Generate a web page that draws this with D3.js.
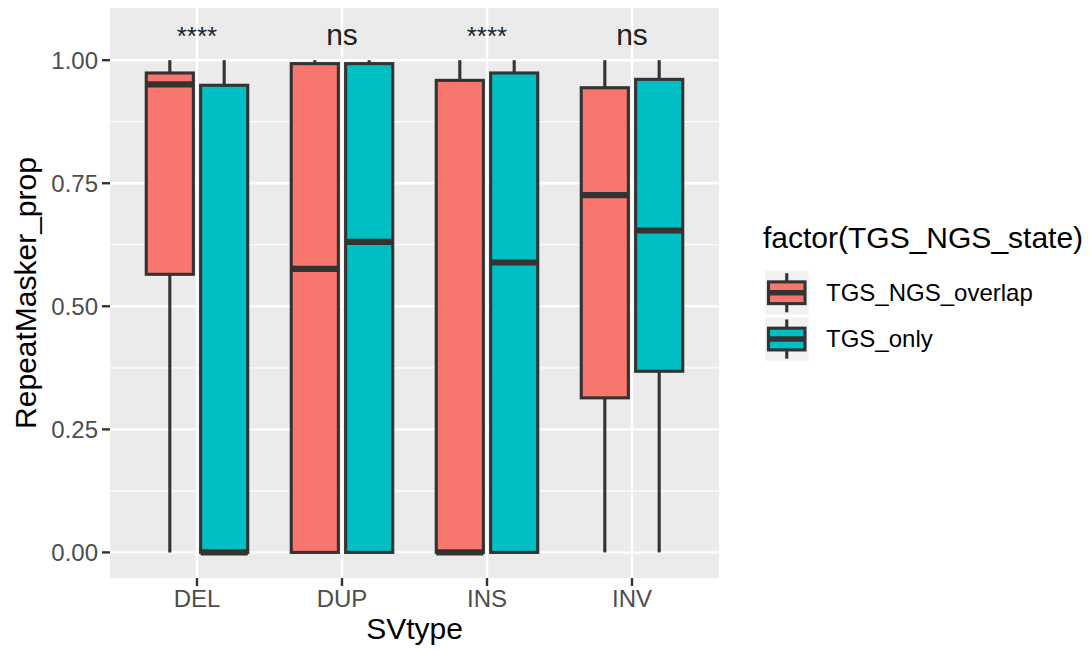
<!DOCTYPE html>
<html>
<head>
<meta charset="utf-8">
<script src="https://cdnjs.cloudflare.com/ajax/libs/d3/7.8.5/d3.min.js"></script>
<style>
  body { margin: 0; background: #fff; }
  text { font-family: "Liberation Sans", Arial, sans-serif; }
</style>
</head>
<body>
<svg id="chart" width="1089" height="650"></svg>
<script>
// Categories and groups
var svTypes = ["DEL", "DUP", "INS", "INV"];
var states = ["TGS_NGS_overlap", "TGS_only"];
var stateColors = ["#F8766D", "#00BFC4"];

// Box statistics per state, one value per SV type
var overlapLower  = [0, 0, 0, 0];
var overlapQ1     = [0.565, 0, 0, 0.314];
var overlapMedian = [0.951, 0.576, 0, 0.726];
var overlapQ3     = [0.974, 0.993, 0.959, 0.944];
var overlapUpper  = [1, 1, 1, 1];

var onlyLower  = [0, 0, 0, 0];
var onlyQ1     = [0, 0, 0, 0.368];
var onlyMedian = [0, 0.631, 0.589, 0.654];
var onlyQ3     = [0.949, 0.993, 0.974, 0.961];
var onlyUpper  = [1, 1, 1, 1];

// Significance labels over each SV type
var signifLabels = ["****", "ns", "****", "ns"];
var signifY = 1.03;

var yTicks = [0, 0.25, 0.5, 0.75, 1];
var yMinor = [0.125, 0.375, 0.625, 0.875];

// Build the box rows from the arrays
var boxes = [];
svTypes.forEach(function (t, i) {
    boxes.push({ type: t, state: 0, lower: overlapLower[i], q1: overlapQ1[i], median: overlapMedian[i], q3: overlapQ3[i], upper: overlapUpper[i] });
    boxes.push({ type: t, state: 1, lower: onlyLower[i], q1: onlyQ1[i], median: onlyMedian[i], q3: onlyQ3[i], upper: onlyUpper[i] });
});

var svg = d3.select("#chart");
var panel = { left: 110, right: 719, top: 8, bottom: 578 };

var x = d3.scalePoint().domain(svTypes).range([panel.left, panel.right]).padding(0.6);
var y = d3.scaleLinear().domain([-0.052, 1.106]).range([panel.bottom, panel.top]);

var step = x.step();
var dodge = 0.1875 * step;
var boxW = 0.325 * step;
var lineCol = "#333333";
var lw = 3.1;

// Panel background
svg.append("rect")
    .attr("x", panel.left).attr("y", panel.top)
    .attr("width", panel.right - panel.left).attr("height", panel.bottom - panel.top)
    .attr("fill", "#EBEBEB");

// Minor grid
svg.selectAll(".minor").data(yMinor).enter().append("line")
    .attr("x1", panel.left).attr("x2", panel.right)
    .attr("y1", function (d) { return y(d); }).attr("y2", function (d) { return y(d); })
    .attr("stroke", "#fff").attr("stroke-width", 1.2);

// Major grid
svg.selectAll(".majorY").data(yTicks).enter().append("line")
    .attr("x1", panel.left).attr("x2", panel.right)
    .attr("y1", function (d) { return y(d); }).attr("y2", function (d) { return y(d); })
    .attr("stroke", "#fff").attr("stroke-width", 2.4);

svg.selectAll(".majorX").data(svTypes).enter().append("line")
    .attr("x1", function (d) { return x(d); }).attr("x2", function (d) { return x(d); })
    .attr("y1", panel.top).attr("y2", panel.bottom)
    .attr("stroke", "#fff").attr("stroke-width", 2.4);

// Boxes
var g = svg.selectAll(".box").data(boxes).enter().append("g");
var cxOf = function (d) { return x(d.type) + (d.state === 0 ? -dodge : dodge); };

g.append("line")
    .attr("x1", cxOf).attr("x2", cxOf)
    .attr("y1", function (d) { return y(d.q3); }).attr("y2", function (d) { return y(d.upper); })
    .attr("stroke", lineCol).attr("stroke-width", lw);
g.append("line")
    .attr("x1", cxOf).attr("x2", cxOf)
    .attr("y1", function (d) { return y(d.q1); }).attr("y2", function (d) { return y(d.lower); })
    .attr("stroke", lineCol).attr("stroke-width", lw);
g.append("rect")
    .attr("x", function (d) { return cxOf(d) - boxW / 2; })
    .attr("y", function (d) { return y(d.q3); })
    .attr("width", boxW)
    .attr("height", function (d) { return y(d.q1) - y(d.q3); })
    .attr("fill", function (d) { return stateColors[d.state]; })
    .attr("stroke", lineCol).attr("stroke-width", lw);
g.append("line")
    .attr("x1", function (d) { return cxOf(d) - boxW / 2; })
    .attr("x2", function (d) { return cxOf(d) + boxW / 2; })
    .attr("y1", function (d) { return y(d.median); }).attr("y2", function (d) { return y(d.median); })
    .attr("stroke", lineCol).attr("stroke-width", lw * 2);

// Significance labels
svg.selectAll(".signif").data(svTypes).enter().append("text")
    .attr("x", function (d) { return x(d); })
    .attr("y", y(signifY))
    .attr("text-anchor", "middle")
    .attr("font-size", function (d, i) { return signifLabels[i] === "ns" ? 30 : 26; })
    .attr("fill", "#222")
    .text(function (d, i) { return signifLabels[i]; });

// Y axis
svg.selectAll(".ytick").data(yTicks).enter().append("line")
    .attr("x1", panel.left - 8).attr("x2", panel.left)
    .attr("y1", function (d) { return y(d); }).attr("y2", function (d) { return y(d); })
    .attr("stroke", lineCol).attr("stroke-width", 2.4);
svg.selectAll(".ylab").data(yTicks).enter().append("text")
    .attr("x", panel.left - 12)
    .attr("y", function (d) { return y(d); })
    .attr("dy", "0.35em")
    .attr("text-anchor", "end")
    .attr("font-size", 24)
    .attr("fill", "#4D4D4D")
    .text(d3.format(".2f"));

// X axis
svg.selectAll(".xtick").data(svTypes).enter().append("line")
    .attr("x1", function (d) { return x(d); }).attr("x2", function (d) { return x(d); })
    .attr("y1", panel.bottom).attr("y2", panel.bottom + 8)
    .attr("stroke", lineCol).attr("stroke-width", 2.4);
svg.selectAll(".xlab").data(svTypes).enter().append("text")
    .attr("x", function (d) { return x(d); })
    .attr("y", 607)
    .attr("text-anchor", "middle")
    .attr("font-size", 24)
    .attr("fill", "#4D4D4D")
    .text(function (d) { return d; });

// Axis titles
svg.append("text")
    .attr("x", (panel.left + panel.right) / 2)
    .attr("y", 639)
    .attr("text-anchor", "middle")
    .attr("font-size", 30)
    .attr("fill", "#000")
    .text("SVtype");
svg.append("text")
    .attr("transform", "translate(36," + ((panel.top + panel.bottom) / 2) + ") rotate(-90)")
    .attr("text-anchor", "middle")
    .attr("font-size", 30)
    .attr("fill", "#000")
    .text("RepeatMasker_prop");

// Legend
var legendX = 765, keySize = 43.5, keyY = [271, 317.3];
svg.append("text")
    .attr("x", 763).attr("y", 248)
    .attr("font-size", 30)
    .attr("fill", "#000")
    .text("factor(TGS_NGS_state)");

var lg = svg.selectAll(".key").data(states).enter().append("g")
    .attr("transform", function (d, i) { return "translate(" + legendX + "," + keyY[i] + ")"; });
lg.append("rect")
    .attr("width", keySize).attr("height", keySize)
    .attr("fill", "#F2F2F2");
lg.append("line")
    .attr("x1", keySize / 2).attr("x2", keySize / 2)
    .attr("y1", keySize * 0.05).attr("y2", keySize * 0.95)
    .attr("stroke", lineCol).attr("stroke-width", lw);
lg.append("rect")
    .attr("x", keySize * 0.08).attr("y", keySize * 0.25)
    .attr("width", keySize * 0.84).attr("height", keySize * 0.5)
    .attr("fill", function (d, i) { return stateColors[i]; })
    .attr("stroke", lineCol).attr("stroke-width", lw);
lg.append("line")
    .attr("x1", keySize * 0.08).attr("x2", keySize * 0.92)
    .attr("y1", keySize / 2).attr("y2", keySize / 2)
    .attr("stroke", lineCol).attr("stroke-width", lw * 1.8);
lg.append("text")
    .attr("x", 826 - legendX)
    .attr("y", keySize / 2)
    .attr("dy", "0.35em")
    .attr("font-size", 24)
    .attr("fill", "#000")
    .text(function (d) { return d; });
</script>
</body>
</html>
